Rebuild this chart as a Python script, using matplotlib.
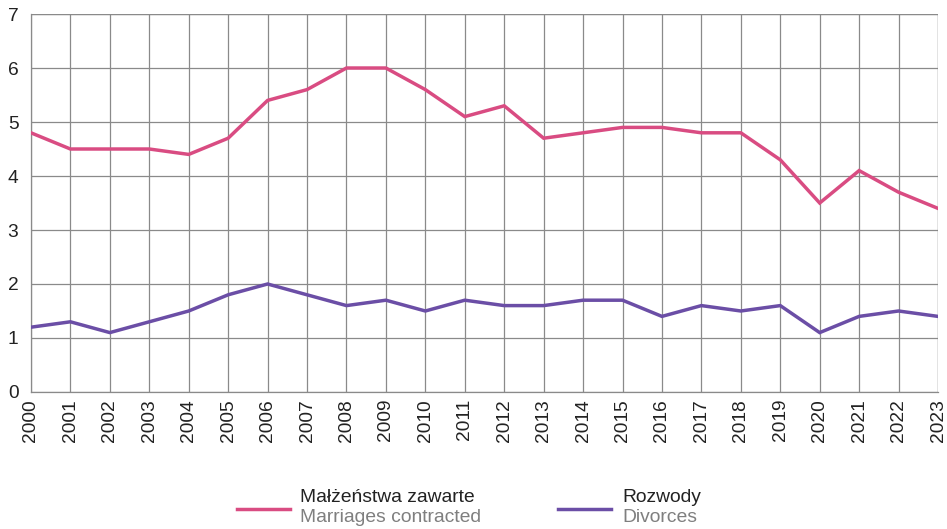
import matplotlib
matplotlib.use("Agg")
import matplotlib.pyplot as plt
from matplotlib.lines import Line2D

plt.rcParams['font.family'] = ['Liberation Sans', 'DejaVu Sans']

years = list(range(2000, 2024))
marriages = [4.8, 4.5, 4.5, 4.5, 4.4, 4.7, 5.4, 5.6, 6.0, 6.0, 5.6, 5.1,
             5.3, 4.7, 4.8, 4.9, 4.9, 4.8, 4.8, 4.3, 3.5, 4.1, 3.7, 3.4]
divorces = [1.2, 1.3, 1.1, 1.3, 1.5, 1.8, 2.0, 1.8, 1.6, 1.7, 1.5, 1.7,
            1.6, 1.6, 1.7, 1.7, 1.4, 1.6, 1.5, 1.6, 1.1, 1.4, 1.5, 1.4]
series_pl = ["Małżeństwa zawarte", "Rozwody"]
series_en = ["Marriages contracted", "Divorces"]
colors = ["#d94c82", "#6b4ea6"]

fig = plt.figure(figsize=(9.47, 5.29), dpi=100)
ax = fig.add_axes([0.0327, 0.259, 0.9578, 0.7145])

ax.plot(years, marriages, color=colors[0], lw=2.5, solid_joinstyle='miter', zorder=3)
ax.plot(years, divorces, color=colors[1], lw=2.5, solid_joinstyle='miter', zorder=3)

ax.set_xlim(2000, 2023)
ax.set_ylim(0, 7)
ax.set_xticks(years)
ax.set_xticklabels([str(y) for y in years], rotation=90, fontsize=13.8, color="#222222")
ax.set_yticks(range(0, 8))
ax.tick_params(axis='y', labelsize=13.8, colors="#222222", length=0, pad=9)
ax.tick_params(axis='x', length=0, pad=5)
ax.grid(True, color="#8a8a8a", lw=0.9)
for s in ['top', 'right']:
    ax.spines[s].set_visible(False)
ax.spines['left'].set_color("#8a8a8a")
ax.spines['bottom'].set_color("#8a8a8a")
ax.spines['left'].set_linewidth(0.9)
ax.spines['bottom'].set_linewidth(0.9)
ax.axhline(7, color="#8a8a8a", lw=0.9, zorder=1)
ax.axvline(2023, color="#8a8a8a", lw=0.9, zorder=1)

W, H = 947, 529
legend_x = [(237, 290, 300), (558, 611, 622)]
for (x0, x1, tx), c, pl, en in zip(legend_x, colors, series_pl, series_en):
    fig.add_artist(Line2D([x0 / W, x1 / W], [1 - 509 / H, 1 - 509 / H], color=c, lw=2.5))
    fig.text(tx / W, 1 - 502 / H, pl, fontsize=13.9, color="#222222", va='baseline', ha='left')
    fig.text(tx / W, 1 - 522 / H, en, fontsize=13.9, color="#7f7f7f", va='baseline', ha='left')

fig.savefig("out.png", dpi=100)
